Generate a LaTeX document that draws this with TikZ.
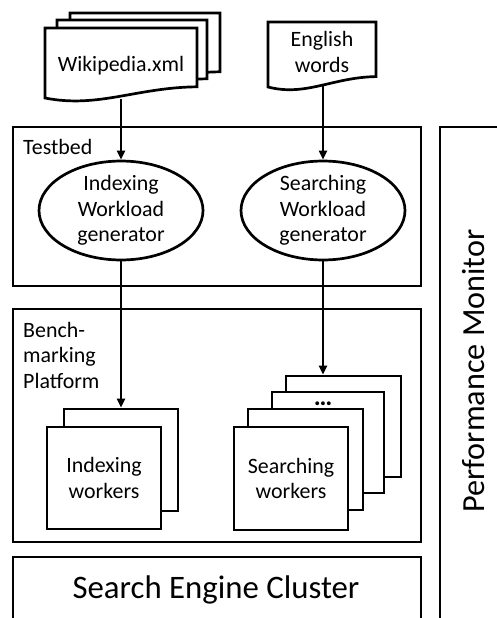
\documentclass[tikz,border=0pt]{standalone}
\usepackage{fontspec}
\setmainfont{Carlito}
\usetikzlibrary{shapes.geometric,arrows.meta}
\tikzset{
  ln/.style={line width=2.7pt, draw=black},
  docbox/.style={ln, fill=white, line join=miter},
  wbox/.style={ln, fill=white, rectangle, inner sep=0pt},
  gen/.style={ln, fill=white, ellipse, inner sep=0pt, minimum width=164pt, minimum height=95pt, align=center},
  lbl/.style={inner sep=0pt, align=left},
  arr/.style={line width=2.5pt, -{Triangle[length=9pt,width=8pt]}}
}
\newcommand{\docshape}[4]{%
  \begin{scope}[shift={(#1,#2)}, xscale=#3, yscale=#4]
    \filldraw[docbox] (0,0) -- (1,0) -- (1,0.84) .. controls (0.6,0.85) and (0.35,1.15) .. (0,1) -- cycle;
  \end{scope}}
\begin{document}
\begin{tikzpicture}[x=1pt, y=-1pt, font=\fontsize{21.9}{25.5}\selectfont]
\useasboundingbox (0,0) rectangle (497,618);
\clip (0,0) rectangle (497,618);
% containers
\draw[ln] (13,127) rectangle (421,286);
\node[lbl, anchor=base west] (testbed) at (23,154) {Testbed};
\draw[ln] (13,309) rectangle (421,542);
\node[lbl, anchor=north west] (bench) at (23,322) {Bench-\\marking\\Platform};
\draw[ln] (13,557) rectangle (421,650);
\node (cluster) at (216,590) {\fontsize{32.8}{36}\selectfont Search Engine Cluster};
\draw[ln] (440,127) rectangle (530,650);
\node[rotate=90] (perf) at (474,371) {\fontsize{32.2}{36}\selectfont Performance Monitor};
% documents
\docshape{70}{13}{150}{70}
\docshape{57}{20}{150}{70}
\docshape{45}{28}{152}{70}
\node[anchor=base] (wiki) at (121,71) {Wikipedia.xml};
\coordinate (wikibot) at (121,99);
\docshape{268}{22}{108}{65}
\node[align=center] (eng) at (322,52) {English\\words};
\coordinate (engbot) at (323,86);
% generators
\node[gen] (idxgen) at (121,210.5) {Indexing\\Workload\\generator};
\node[gen] (srchgen) at (323,210.5) {Searching\\Workload\\generator};
% indexing workers
\node[wbox, minimum width=114pt, minimum height=102pt] (idxback) at (121,460) {};
\node[wbox, minimum width=114pt, minimum height=102pt, align=center] (idxw) at (104,478) {Indexing\\workers};
% searching workers
\node[wbox, minimum width=115pt, minimum height=101pt] (s4) at (343.5,426.5) {};
\node[wbox, minimum width=112pt, minimum height=101pt] (s3) at (328,442.5) {};
\node[inner sep=0pt, anchor=base] (dots) at (323,405) {\fontsize{26}{28}\selectfont\bfseries …};
\node[wbox, minimum width=115pt, minimum height=101pt] (s2) at (305.5,459.5) {};
\node[wbox, minimum width=114pt, minimum height=103pt, align=center] (srchw) at (291,478.5) {Searching\\workers};
% connectors
\draw[arr] (wikibot) -- (idxgen.north);
\draw[arr] (engbot) -- (srchgen.north);
\draw[arr] (idxgen.south) -- (idxback.north);
\draw[arr] (srchgen.south) -- (srchgen.south |- s4.north);
\end{tikzpicture}
\end{document}
